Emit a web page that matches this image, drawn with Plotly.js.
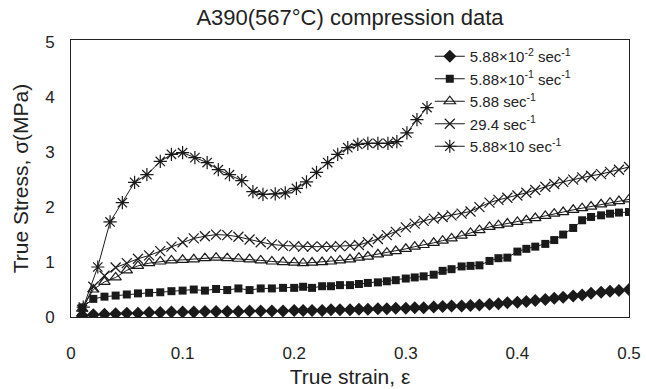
<!DOCTYPE html>
<html>
<head>
<meta charset="utf-8">
<script src="https://cdn.plot.ly/plotly-3.0.1.min.js"></script>
<style>html,body{margin:0;padding:0;background:#fff;}#chart{width:646px;height:389px;}</style>
</head>
<body>
<div id="chart"></div>
<script>
// Strain grid shared by the four lower series
var strain = [0.01,0.02,0.03,0.04,0.05,0.06,0.07,0.08,0.09,0.10,0.11,0.12,0.13,0.14,0.15,0.16,0.17,0.18,0.19,0.20,
  0.208,0.216,0.225,0.233,0.241,0.25,0.258,0.266,0.275,0.283,0.291,0.30,0.308,0.316,0.325,0.333,0.341,0.35,0.358,0.366,
  0.375,0.383,0.391,0.40,0.408,0.416,0.425,0.433,0.441,0.45,0.458,0.466,0.475,0.483,0.491,0.50];

var stress_588e_2 = [0.02,0.04,0.05,0.06,0.07,0.07,0.08,0.08,0.09,0.09,0.09,0.10,0.10,0.10,0.10,0.11,0.11,0.11,0.11,0.12,
  0.12,0.12,0.12,0.13,0.13,0.13,0.14,0.14,0.15,0.15,0.16,0.16,0.17,0.17,0.18,0.19,0.20,0.20,0.21,0.22,
  0.23,0.24,0.26,0.27,0.28,0.30,0.32,0.34,0.36,0.38,0.40,0.43,0.45,0.47,0.48,0.50];

var stress_588e_1 = [0.17,0.33,0.37,0.39,0.41,0.43,0.44,0.45,0.47,0.48,0.50,0.48,0.51,0.49,0.52,0.49,0.52,0.52,0.53,0.53,
  0.55,0.53,0.56,0.56,0.58,0.58,0.60,0.62,0.63,0.65,0.67,0.70,0.72,0.74,0.77,0.84,0.87,0.92,0.93,0.94,
  1.02,1.07,1.08,1.19,1.24,1.28,1.33,1.40,1.50,1.62,1.76,1.82,1.85,1.88,1.90,1.91];

var stress_588 = [0.15,0.50,0.64,0.72,0.85,0.93,0.98,1.01,1.03,1.04,1.05,1.07,1.08,1.07,1.06,1.05,1.03,1.01,1.00,0.99,
  0.98,0.99,1.00,1.01,1.03,1.05,1.08,1.10,1.14,1.17,1.20,1.24,1.28,1.31,1.35,1.39,1.43,1.48,1.53,1.58,
  1.64,1.67,1.70,1.73,1.76,1.80,1.84,1.88,1.91,1.95,1.98,2.01,2.05,2.08,2.11,2.14];

var stress_294 = [0.13,0.55,0.75,0.90,0.98,1.06,1.12,1.20,1.28,1.36,1.43,1.47,1.50,1.49,1.46,1.41,1.36,1.32,1.30,1.29,
  1.28,1.28,1.28,1.28,1.29,1.30,1.31,1.36,1.42,1.49,1.55,1.63,1.70,1.75,1.79,1.82,1.85,1.88,1.92,2.00,
  2.08,2.13,2.17,2.21,2.26,2.31,2.37,2.42,2.46,2.50,2.54,2.57,2.60,2.64,2.68,2.73];

// Highest strain rate series
var strain_588e1 = [0.011,0.024,0.035,0.046,0.057,0.068,0.080,0.090,0.100,0.111,0.122,0.132,0.142,0.153,0.163,0.172,
  0.183,0.192,0.202,0.211,0.220,0.230,0.239,0.248,0.257,0.266,0.275,0.284,0.292,0.301,0.310,0.319];
var stress_588e1 = [0.18,0.91,1.73,2.08,2.45,2.59,2.83,2.96,2.99,2.90,2.81,2.68,2.59,2.48,2.28,2.23,
  2.24,2.26,2.34,2.46,2.63,2.81,2.96,3.08,3.14,3.16,3.16,3.16,3.19,3.35,3.59,3.81];

var seriesNames = [
  '5.88×10<sup>-2</sup> sec<sup>-1</sup>',
  '5.88×10<sup>-1</sup> sec<sup>-1</sup>',
  '5.88 sec<sup>-1</sup>',
  '29.4 sec<sup>-1</sup>',
  '5.88×10 sec<sup>-1</sup>'
];
var xTicks = [0, 0.1, 0.2, 0.3, 0.4, 0.5];
var xTickText = ['0', '0.1', '0.2', '0.3', '0.4', '0.5'];
var yTicks = [0, 1, 2, 3, 4, 5];

var ink = '#1a1a1a';
function tr(x, y, name, sym, size, lw) {
  return {
    x: x, y: y, name: name, type: 'scatter', mode: 'lines+markers',
    line: {color: ink, width: 1},
    marker: {symbol: sym, size: size, color: ink, line: {color: ink, width: lw}}
  };
}
var data = [
  tr(strain, stress_588e_2, seriesNames[0], 'diamond', 10, 0),
  tr(strain, stress_588e_1, seriesNames[1], 'square', 8, 0),
  tr(strain, stress_588, seriesNames[2], 'triangle-up-open', 10, 1.2),
  tr(strain, stress_294, seriesNames[3], 'x-thin-open', 10, 1.2),
  tr(strain_588e1, stress_588e1, seriesNames[4], 'asterisk-open', 11, 1.2)
];

var layout = {
  width: 646, height: 389,
  margin: {l: 71, r: 17, t: 40, b: 72},
  paper_bgcolor: '#fff', plot_bgcolor: '#fff',
  font: {family: '"Liberation Sans", Arial, sans-serif', size: 17, color: '#222'},
  showlegend: true,
  title: {text: 'A390(567°C) compression data', font: {size: 22, color: '#222'},
          xref: 'paper', x: 0.5, xanchor: 'center', yref: 'container', y: 0.955, yanchor: 'middle'},
  xaxis: {
    range: [0, 0.5], tickvals: xTicks, ticktext: xTickText, ticks: '', ticklabelstandoff: 21,
    tickfont: {size: 17},
    showgrid: false, zeroline: false, showline: true, mirror: true, linecolor: '#222', linewidth: 1,
    title: {text: 'True strain, ε', font: {size: 21}, standoff: 6}
  },
  yaxis: {
    range: [0, 5.04], tickvals: yTicks, ticks: '', ticklabelstandoff: 12,
    tickfont: {size: 17},
    showgrid: false, zeroline: false, showline: true, mirror: true, linecolor: '#222', linewidth: 1,
    title: {text: 'True Stress, σ(MPa)', font: {size: 21}, standoff: 10}
  },
  legend: {
    x: 0.643, y: 1.0, xanchor: 'left', yanchor: 'top', bgcolor: 'rgba(0,0,0,0)',
    font: {size: 15, color: '#222'}, tracegroupgap: 0, itemwidth: 30
  }
};
Plotly.newPlot('chart', data, layout, {staticPlot: true});
</script>
</body>
</html>
